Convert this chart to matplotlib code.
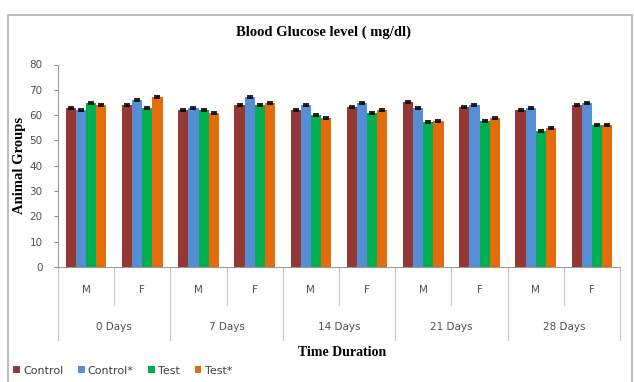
import numpy as np
import matplotlib
matplotlib.use("Agg")
import matplotlib.pyplot as plt
from matplotlib.patches import Rectangle

# Blood glucose readings per sub-group (M/F for each day)
days = ["0 Days", "7 Days", "14 Days", "21 Days", "28 Days"]
sexes = ["M", "F"]
series_names = ["Control", "Control*", "Test", "Test*"]
colors = ["#953735", "#558ED5", "#00B050", "#E46C0A"]

control = [63.0, 64.0, 62.0, 64.0, 62.0, 63.3, 65.3, 63.3, 62.0, 64.0]
control_star = [62.0, 65.9, 63.0, 67.0, 64.0, 64.9, 63.0, 64.0, 63.0, 64.9]
test = [64.6, 63.0, 62.0, 64.0, 60.0, 61.0, 57.1, 57.8, 53.8, 56.0]
test_star = [64.0, 67.3, 61.0, 64.6, 59.0, 62.0, 57.8, 58.7, 55.0, 56.0]
err = [0.4, 0.4, 0.4, 0.4]

values = [control, control_star, test, test_star]

fig = plt.figure(figsize=(6.34, 3.82), dpi=100)
ax = fig.add_axes([58 / 634, 1 - 267 / 382, (620 - 58) / 634, (267 - 64.5) / 382])

n = len(control)
x = np.arange(n) + 0.5
width = 0.18
for i, (vals, c, name) in enumerate(zip(values, colors, series_names)):
    offs = (i - 1.5) * width
    ax.bar(x + offs, vals, width, color=c, label=name, zorder=2)
    ax.errorbar(x + offs, vals, yerr=err[i], fmt="none", ecolor="black",
                elinewidth=1, capsize=2, capthick=1.2, zorder=3)

ax.set_xlim(0, n)
ax.set_ylim(0, 80)
ax.set_yticks(range(0, 81, 10))
ax.tick_params(axis="y", labelsize=7.5, length=3, color="#888888", labelcolor="#505050", pad=8)
ax.set_xticks([])
for s in ["top", "right"]:
    ax.spines[s].set_visible(False)
for s in ["left", "bottom"]:
    ax.spines[s].set_color("#9a9a9a")
    ax.spines[s].set_linewidth(0.8)

# two-level category axis
trans = ax.get_xaxis_transform()
for k in range(n + 1):
    depth = -0.36 if k % 2 == 0 else -0.188
    ax.plot([k, k], [0, depth], transform=trans, color="#c8c8c8", lw=0.8, clip_on=False)
for k in range(n):
    ax.text(k + 0.5, -0.114, sexes[k % 2], transform=trans, ha="center", va="center",
            fontsize=7.5, color="#505050")
for d, label in enumerate(days):
    ax.text(2 * d + 1, -0.296, label, transform=trans, ha="center", va="center",
            fontsize=7.5, color="#505050")

fig.text(323 / 634, 1 - 32 / 382, "Blood Glucose level ( mg/dl)", ha="center", va="center",
         fontsize=10.5, fontweight="bold", family="Liberation Serif")
fig.text(342 / 634, 1 - 352 / 382, "Time Duration", ha="center", va="center",
         fontsize=10, fontweight="bold", family="Liberation Serif")
fig.text(20 / 634, 1 - 165 / 382, "Animal Groups", ha="center", va="center", rotation=90,
         fontsize=10.5, fontweight="bold", family="Liberation Serif")

fig.legend(loc="lower left", bbox_to_anchor=(0.005, -0.01), ncol=4, frameon=False,
           fontsize=8, handlelength=0.6, handleheight=0.6, handletextpad=0.3,
           columnspacing=1.3, labelcolor="#404040")

fig.add_artist(Rectangle((8 / 634, -0.01), 1 - 8 / 634 - 0.003, 1 - 15 / 382 + 0.01,
                         transform=fig.transFigure, fill=False, edgecolor="#b0b0b0", lw=1.2))

fig.savefig("out.png", dpi=100)
